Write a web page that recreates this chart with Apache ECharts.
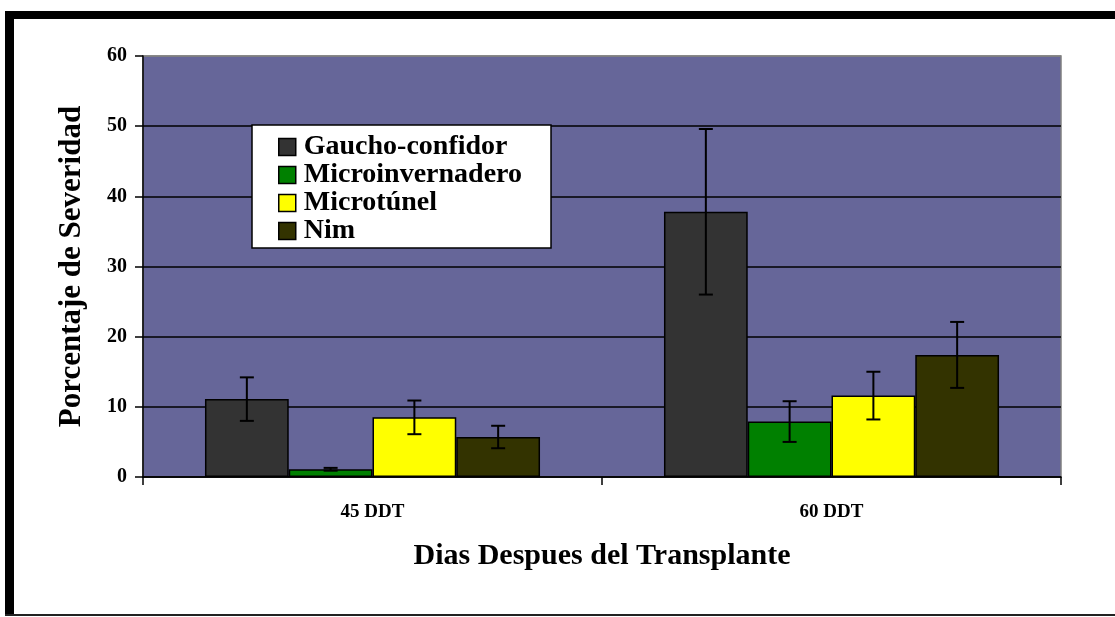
<!DOCTYPE html>
<html>
<head>
<meta charset="utf-8">
<script src="https://cdn.jsdelivr.net/npm/echarts@6/dist/echarts.min.js"></script>
<style>
  html, body { margin: 0; padding: 0; background: #fff; }
  #chart { width: 1115px; height: 617px; }
</style>
</head>
<body>
<div id="chart"></div>
<script>
// datos
const categorias = ['45 DDT', '60 DDT'];
const tratamientos = ['Gaucho-confidor', 'Microinvernadero', 'Microtúnel', 'Nim'];
const colores = ['#333333', '#008000', '#ffff00', '#333300'];
const gaucho = [11.1, 37.8];
const microinvernadero = [1.1, 7.9];
const microtunel = [8.5, 11.6];
const nim = [5.7, 17.4];
const errGaucho = [3.1, 11.8];
const errMicroinv = [0.2, 2.9];
const errMicrotunel = [2.4, 3.4];
const errNim = [1.6, 4.7];

const valores = [gaucho, microinvernadero, microtunel, nim];
const errores = [errGaucho, errMicroinv, errMicrotunel, errNim];

const fuente = '"Liberation Serif", "Times New Roman", serif';
const huecoCategoria = 0.27;

const chart = echarts.init(document.getElementById('chart'));

const seriesBarras = tratamientos.map((nombre, i) => ({
    name: nombre,
    type: 'bar',
    data: valores[i],
    barGap: '0%',
    barCategoryGap: (huecoCategoria * 100) + '%',
    itemStyle: { color: colores[i], borderColor: '#000', borderWidth: 1.5 },
    emphasis: { disabled: true }
}));

// barras de error, una serie custom por tratamiento
const seriesError = tratamientos.map((nombre, i) => ({
    type: 'custom',
    name: nombre + '-err',
    z: 10,
    data: valores[i].map((v, j) => [j, v, errores[i][j]]),
    renderItem: (params, api) => {
        const cat = api.value(0);
        const v = api.value(1);
        const e = api.value(2);
        const ancho = api.size([1, 0])[0];
        const barra = ancho * (1 - huecoCategoria) / 4;
        const x = api.coord([cat, v])[0] + (i - 1.5) * barra;
        const yTop = api.coord([cat, v + e])[1];
        const yBot = api.coord([cat, v - e])[1];
        const cap = 7;
        const estilo = { stroke: '#000', lineWidth: 2 };
        return {
            type: 'group',
            children: [
                { type: 'line', shape: { x1: x, y1: yTop, x2: x, y2: yBot }, style: estilo },
                { type: 'line', shape: { x1: x - cap, y1: yTop, x2: x + cap, y2: yTop }, style: estilo },
                { type: 'line', shape: { x1: x - cap, y1: yBot, x2: x + cap, y2: yBot }, style: estilo }
            ]
        };
    }
}));

chart.setOption({
    animation: false,
    backgroundColor: '#fff',
    textStyle: { fontFamily: fuente },
    grid: {
        left: 143, right: 54, top: 56, bottom: 140,
        show: true, backgroundColor: '#666699', borderColor: '#808080', borderWidth: 1.5
    },
    legend: {
        data: tratamientos,
        orient: 'vertical',
        left: 252, top: 125,
        backgroundColor: '#fff',
        borderColor: '#000',
        borderWidth: 1.5,
        padding: [8, 29, 3, 26],
        icon: 'rect',
        itemWidth: 17, itemHeight: 17,
        itemGap: 0,
        textStyle: { fontFamily: fuente, fontWeight: 'bold', fontSize: 28, color: '#000', lineHeight: 28, padding: [0, 0, 0, 3] },
        itemStyle: { borderColor: '#000', borderWidth: 1.5 }
    },
    xAxis: {
        type: 'category',
        data: categorias,
        name: 'Dias Despues del Transplante',
        nameLocation: 'middle',
        nameGap: 64,
        nameTextStyle: { fontFamily: fuente, fontWeight: 'bold', fontSize: 30, color: '#000' },
        axisLine: { lineStyle: { color: '#000', width: 1.5 } },
        axisTick: { show: true, length: 8, lineStyle: { color: '#000', width: 1.5 } },
        axisLabel: { fontFamily: fuente, fontWeight: 'bold', fontSize: 19, color: '#000', margin: 26 }
    },
    yAxis: {
        type: 'value',
        min: 0, max: 60, interval: 10,
        name: 'Porcentaje de Severidad',
        nameLocation: 'middle',
        nameGap: 56,
        nameTextStyle: { fontFamily: fuente, fontWeight: 'bold', fontSize: 31, color: '#000' },
        axisLine: { show: true, lineStyle: { color: '#000', width: 1.5 } },
        axisTick: { show: true, length: 8, lineStyle: { color: '#000', width: 1.5 } },
        axisLabel: { fontFamily: fuente, fontWeight: 'bold', fontSize: 20, color: '#000', margin: 16 },
        splitLine: {
            show: true,
            lineStyle: { color: ['#000', '#000', '#000', '#000', '#000', '#000', '#808080'], width: 1.5 }
        }
    },
    graphic: [
        // marco de la imagen original
        { type: 'rect', shape: { x: 5, y: 11, width: 1110, height: 8 }, style: { fill: '#000' } },
        { type: 'rect', shape: { x: 5, y: 11, width: 9, height: 605 }, style: { fill: '#000' } },
        { type: 'rect', shape: { x: 5, y: 614, width: 1110, height: 2 }, style: { fill: '#222' } }
    ],
    series: seriesBarras.concat(seriesError)
});
</script>
</body>
</html>
